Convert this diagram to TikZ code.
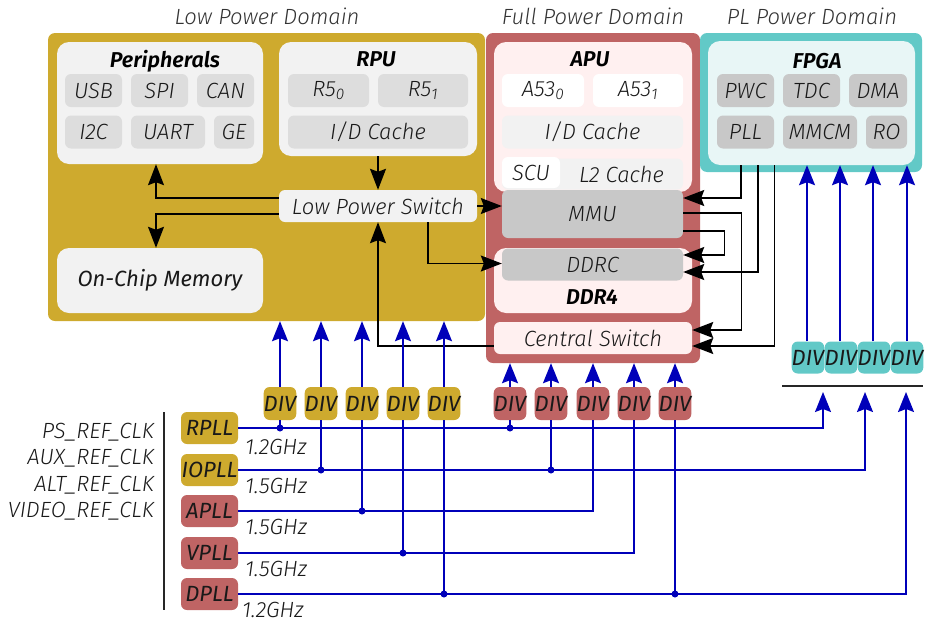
\documentclass[tikz,border=0pt]{standalone}
\usepackage{fontspec}
\setmainfont{Fira Sans}[UprightFont={* Light}, ItalicFont={* Light Italic},
                        BoldFont={* SemiBold}, BoldItalicFont={* SemiBold Italic}]
\newfontfamily\firabook{Fira Sans}
\usetikzlibrary{positioning, arrows.meta}
\definecolor{LowGold}{RGB}{206, 170, 46}
\definecolor{FullRed}{RGB}{191, 100, 100}
\definecolor{PLTeal}{RGB}{98, 201, 199}
\definecolor{PaneGray}{RGB}{242, 242, 242}
\definecolor{CellGray}{RGB}{221, 221, 221}
\definecolor{CoreGray}{RGB}{200, 200, 200}
\definecolor{PanePink}{RGB}{255, 240, 240}
\definecolor{PaneCyan}{RGB}{232, 246, 246}
\definecolor{ClockBlue}{RGB}{0, 0, 185}

\begin{document}
\begin{tikzpicture}[x=1pt, y=-1pt,
            txt/.style={font=\fontsize{22}{26}\selectfont\itshape, text=black!90, inner sep=0pt},
            heading/.style={font=\fontsize{21.5}{26}\selectfont\bfseries\itshape, inner sep=0pt},
            powerdomain/.style={rounded corners=7pt, inner sep=0pt},
            pane/.style={txt, rounded corners=12pt},
            cell/.style={txt, rounded corners=6pt, minimum height=33pt},
            divbox/.style={cell, font=\fontsize{22}{26}\selectfont\firabook\itshape,
                           minimum width=32pt},
            link/.style={line width=1.4pt, -{Stealth[length=21pt, width=16pt, inset=3pt]}},
            clk/.style={ClockBlue, line width=1.6pt},
            clkarrow/.style={clk, -{Stealth[length=20pt, width=16pt, inset=3pt]}},
            junction/.style={circle, fill=ClockBlue, inner sep=0pt, minimum size=7pt}
        ]
            \useasboundingbox (0, 0) rectangle (925, 624);

            \node[txt, text=black!80] (lowtitle) at (267, 16) {Low Power Domain};
            \node[txt, text=black!80] (fulltitle) at (593, 16) {Full Power Domain};
            \node[txt, text=black!80] (pltitle) at (812, 16) {PL Power Domain};

            \node[powerdomain, fill=LowGold, minimum width=437pt, minimum height=288pt]
                (lowdomain) at (266.5, 177) {};
            \node[powerdomain, fill=FullRed, minimum width=214pt, minimum height=330pt]
                (fulldomain) at (593, 198) {};
            \node[powerdomain, fill=PLTeal, minimum width=222pt, minimum height=139pt]
                (pldomain) at (811, 102.5) {};

            % low power domain
            \node[pane, fill=PaneGray, minimum width=206pt, minimum height=122pt]
                (periph) at (160, 103) {};
            \node[heading] (periphtitle) at (165, 61) {Peripherals};
            \node[cell, fill=CellGray, minimum width=57pt] (usb) at (93.5, 90.5) {USB};
            \node[cell, fill=CellGray, minimum width=57pt] (spi) at (159.5, 90.5) {SPI};
            \node[cell, fill=CellGray, minimum width=57pt] (can) at (225.5, 90.5) {CAN};
            \node[cell, fill=CellGray, minimum width=57pt] (iic) at (93.5, 132) {I2C};
            \node[cell, fill=CellGray, minimum width=74pt] (uart) at (168, 132) {UART};
            \node[cell, fill=CellGray, minimum width=40pt] (ge) at (234, 132) {GE};

            \node[pane, fill=PaneGray, minimum width=198pt, minimum height=114pt]
                (rpu) at (378, 99) {};
            \node[heading] (rputitle) at (376, 59) {RPU};
            \node[cell, fill=CellGray, minimum width=81pt] (rcore0) at (328.5, 90.5) {R5\textsubscript{0}};
            \node[cell, fill=CellGray, minimum width=90pt] (rcore1) at (423, 90.5) {R5\textsubscript{1}};
            \node[cell, fill=CellGray, minimum width=180pt] (rcache) at (378, 132) {I/D Cache};

            \node[cell, fill=PaneGray, minimum width=198pt, minimum height=32pt]
                (lps) at (378, 206) {Low Power Switch};
            \node[pane, fill=PaneGray, font=\fontsize{22}{26}\selectfont\firabook\itshape,
                  minimum width=206pt, minimum height=65pt]
                (ocm) at (160, 280.5) {On-Chip Memory};

            % full power domain
            \node[pane, fill=PanePink, minimum width=198pt, minimum height=150pt]
                (apu) at (593, 117) {};
            \node[heading] (aputitle) at (590, 59) {APU};
            \node[cell, fill=white, minimum width=82pt] (acore0) at (543, 90.5) {A53\textsubscript{0}};
            \node[cell, fill=white, minimum width=90pt] (acore1) at (638, 90.5) {A53\textsubscript{1}};
            \node[cell, fill=PaneGray, minimum width=181pt] (acache) at (592.5, 132) {I/D Cache};
            \node[cell, fill=PaneGray, minimum width=181pt, minimum height=31pt]
                (l2) at (592.5, 174) {\hspace*{58pt}L2 Cache};
            \node[cell, fill=white, minimum width=58pt, minimum height=31pt] (scu) at (531, 172.5) {SCU};
            \node[cell, fill=CoreGray, minimum width=181pt, minimum height=48pt]
                (mmu) at (592.5, 214) {MMU};

            \node[pane, fill=PanePink, minimum width=198pt, minimum height=65pt]
                (ddr) at (593, 280.5) {};
            \node[heading] (ddrtitle) at (592, 297) {DDR4};
            \node[cell, fill=CoreGray, minimum width=181pt, minimum height=32pt]
                (ddrc) at (592.5, 264.5) {DDRC};
            \node[cell, fill=PanePink, minimum width=198pt, minimum height=32pt]
                (cswitch) at (593, 338) {Central Switch};

            % pl power domain
            \node[pane, fill=PaneCyan, minimum width=207pt, minimum height=124pt]
                (fpga) at (811.5, 103) {};
            \node[heading] (fpgatitle) at (817, 61) {FPGA};
            \node[cell, fill=CoreGray, minimum width=57pt] (pwc) at (745.5, 90.5) {PWC};
            \node[cell, fill=CoreGray, minimum width=57pt] (tdc) at (811.5, 90.5) {TDC};
            \node[cell, fill=CoreGray, minimum width=58pt] (dma) at (878, 90.5) {DMA};
            \node[cell, fill=CoreGray, minimum width=57pt] (fpll) at (745.5, 132) {PLL};
            \node[cell, fill=CoreGray, minimum width=74pt] (mmcm) at (820, 132) {MMCM};
            \node[cell, fill=CoreGray, minimum width=41pt] (ro) at (886.5, 132) {RO};

            % data paths
            \draw[link, {Stealth[length=21pt, width=16pt, inset=3pt]}-]
                ([xshift=-4pt]periph.south) |- ([yshift=8pt]lps.west);
            \draw[link] ([yshift=-8pt]lps.west) -| ([xshift=-4pt]ocm.north);
            \draw[link] (rpu.south) -- (lps.north);
            \draw[link] ([yshift=-8pt]cswitch.west) -| (lps.south);
            \draw[link] (lps.east) -- (mmu.west |- lps.east);
            \draw[link] ([xshift=50pt]lps.south) |- ([yshift=1pt]ddrc.west);
            \draw[link] ([xshift=-70.5pt]fpga.south) |- ([yshift=16pt]mmu.east);
            \draw[link] ([xshift=-53.5pt]fpga.south) |- ([yshift=-7.5pt]ddrc.east);
            \draw[link, {Stealth[length=21pt, width=16pt, inset=3pt]}-]
                ([yshift=-8pt]cswitch.east) -| ([xshift=-37pt]fpga.south);
            \draw[link] ([yshift=1pt]mmu.east) -- ++(58, 0) |- ([yshift=8pt]cswitch.east);
            \draw[link] ([yshift=-17pt]mmu.east) -- ++(41, 0) |- ([yshift=9.5pt]ddrc.east);

            % clocks
            \node[txt, anchor=east] (psref) at (154, 432) {PS\_REF\_CLK};
            \node[txt, anchor=east] (auxref) at (154, 458) {AUX\_REF\_CLK};
            \node[txt, anchor=east] (altref) at (154, 485) {ALT\_REF\_CLK};
            \node[txt, anchor=east] (videoref) at (154, 511) {VIDEO\_REF\_CLK};
            \draw[line width=1.6pt, black!85] (164, 412) -- (164, 610);

            \node[divbox, fill=LowGold, minimum width=57pt, minimum height=32pt] (rpll) at (209.5, 428) {RPLL};
            \node[divbox, fill=LowGold, minimum width=57pt, minimum height=32pt] (iopll) at (209.5, 470) {IOPLL};
            \node[divbox, fill=FullRed, minimum width=57pt, minimum height=32pt] (apll) at (209.5, 511) {APLL};
            \node[divbox, fill=FullRed, minimum width=57pt, minimum height=32pt] (vpll) at (209.5, 553) {VPLL};
            \node[divbox, fill=FullRed, minimum width=57pt, minimum height=32pt] (dpll) at (209.5, 594) {DPLL};

            \node[txt, anchor=west] (rfreq) at (245, 447) {1.2GHz};
            \node[txt, anchor=west] (iofreq) at (245, 486) {1.5GHz};
            \node[txt, anchor=west] (afreq) at (245, 527) {1.5GHz};
            \node[txt, anchor=west] (vfreq) at (245, 569) {1.5GHz};
            \node[txt, anchor=west] (dfreq) at (242, 610) {1.2GHz};

            \node[divbox, fill=LowGold] (gdiv1) at (280, 403.5) {DIV};
            \node[divbox, fill=LowGold] (gdiv2) at (321, 403.5) {DIV};
            \node[divbox, fill=LowGold] (gdiv3) at (362, 403.5) {DIV};
            \node[divbox, fill=LowGold] (gdiv4) at (403, 403.5) {DIV};
            \node[divbox, fill=LowGold] (gdiv5) at (444, 403.5) {DIV};
            \node[divbox, fill=FullRed] (rdiv1) at (510, 403.5) {DIV};
            \node[divbox, fill=FullRed] (rdiv2) at (551, 403.5) {DIV};
            \node[divbox, fill=FullRed] (rdiv3) at (593, 403.5) {DIV};
            \node[divbox, fill=FullRed] (rdiv4) at (634, 403.5) {DIV};
            \node[divbox, fill=FullRed] (rdiv5) at (675, 403.5) {DIV};
            \node[divbox, fill=PLTeal, minimum height=32pt] (tdiv1) at (808, 357.5) {DIV};
            \node[divbox, fill=PLTeal, minimum height=32pt] (tdiv2) at (841, 357.5) {DIV};
            \node[divbox, fill=PLTeal, minimum height=32pt] (tdiv3) at (874, 357.5) {DIV};
            \node[divbox, fill=PLTeal, minimum height=32pt] (tdiv4) at (907, 357.5) {DIV};

            \draw[line width=1.6pt, black!85] (782, 386) -- (923, 386);
            \coordinate (plin1) at (823, 392);
            \coordinate (plin2) at (865, 392);
            \coordinate (plin3) at (906, 392);

            \draw[clkarrow] (gdiv1) -- (gdiv1 |- lowdomain.south);
            \draw[clkarrow] (gdiv2) -- (gdiv2 |- lowdomain.south);
            \draw[clkarrow] (gdiv3) -- (gdiv3 |- lowdomain.south);
            \draw[clkarrow] (gdiv4) -- (gdiv4 |- lowdomain.south);
            \draw[clkarrow] (gdiv5) -- (gdiv5 |- lowdomain.south);
            \draw[clkarrow] (rdiv1) -- (rdiv1 |- fulldomain.south);
            \draw[clkarrow] (rdiv2) -- (rdiv2 |- fulldomain.south);
            \draw[clkarrow] (rdiv3) -- (rdiv3 |- fulldomain.south);
            \draw[clkarrow] (rdiv4) -- (rdiv4 |- fulldomain.south);
            \draw[clkarrow] (rdiv5) -- (rdiv5 |- fulldomain.south);
            \draw[clkarrow] ([xshift=-1pt]tdiv1.north) -- ([xshift=-1pt]tdiv1 |- fpga.south);
            \draw[clkarrow] ([xshift=-1pt]tdiv2.north) -- ([xshift=-1pt]tdiv2 |- fpga.south);
            \draw[clkarrow] ([xshift=-1pt]tdiv3.north) -- ([xshift=-1pt]tdiv3 |- fpga.south);
            \draw[clkarrow] (tdiv4) -- (tdiv4 |- fpga.south);

            \draw[clkarrow] (rpll) -| (plin1);
            \draw[clkarrow] (iopll) -| (plin2);
            \draw[clk] (apll) -| (rdiv3);
            \draw[clk] (vpll) -| (rdiv4);
            \draw[clkarrow] (dpll) -| (plin3);

            \draw[clk] (gdiv1) -- (gdiv1 |- rpll);
            \draw[clk] (rdiv1) -- (rdiv1 |- rpll);
            \draw[clk] (gdiv2) -- (gdiv2 |- iopll);
            \draw[clk] (rdiv2) -- (rdiv2 |- iopll);
            \draw[clk] (gdiv3) -- (gdiv3 |- apll);
            \draw[clk] (gdiv4) -- (gdiv4 |- vpll);
            \draw[clk] (gdiv5) -- (gdiv5 |- dpll);
            \draw[clk] (rdiv5) -- (rdiv5 |- dpll);

            \node[junction] (jr1) at (gdiv1 |- rpll) {};
            \node[junction] (jr2) at (rdiv1 |- rpll) {};
            \node[junction] (jio1) at (gdiv2 |- iopll) {};
            \node[junction] (jio2) at (rdiv2 |- iopll) {};
            \node[junction] (ja1) at (gdiv3 |- apll) {};
            \node[junction] (jv1) at (gdiv4 |- vpll) {};
            \node[junction] (jd1) at (gdiv5 |- dpll) {};
            \node[junction] (jd2) at (rdiv5 |- dpll) {};
        \end{tikzpicture}
\end{document}
